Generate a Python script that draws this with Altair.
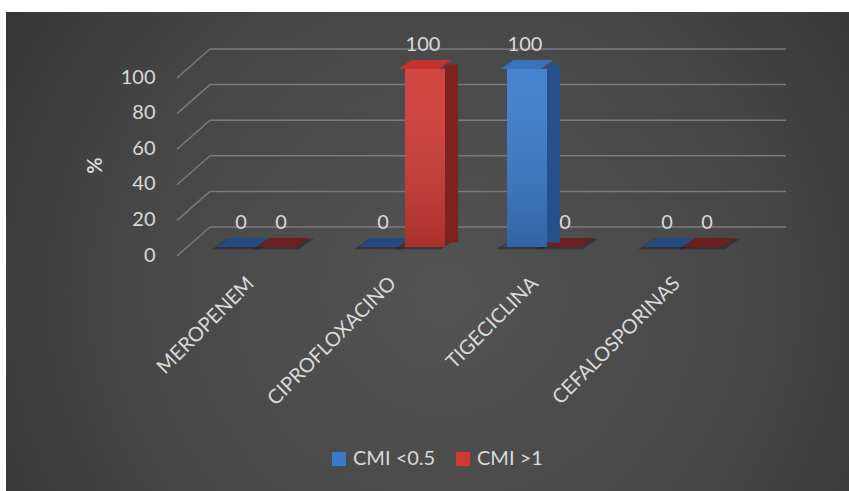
import altair as alt
import pandas as pd

# Data
categories = ["MEROPENEM", "CIPROFLOXACINO", "TIGECICLINA", "CEFALOSPORINAS"]
series = ["CMI <0.5", "CMI >1"]
cmi_low = [0, 0, 100, 0]
cmi_high = [0, 100, 0, 0]
y_ticks = [0, 20, 40, 60, 80, 100]

rows = []
for cat, lo, hi in zip(categories, cmi_low, cmi_high):
    rows.append({"categoria": cat, "serie": series[0], "valor": lo})
    rows.append({"categoria": cat, "serie": series[1], "valor": hi})
df = pd.DataFrame(rows)
grid_df = pd.DataFrame({"valor": y_ticks})
bg_df = pd.DataFrame({"k": [0]})

FONT = "Lato"
TXT = "#d9d9d9"
PLOT_W, PLOT_H = 568, 207
LEFT, TOP = 192, 40
BAR_W = 40      # width of one bar inside a category group
DEPTH_X, DEPTH_Y = 13, 9

# parallelogram used for floor tiles and bar tops (depth 13 px right, 9 px up)
PARA = "M -1 0.1698 L 0.5094 0.1698 L 1 -0.1698 L -0.5094 -0.1698 Z"
PARA_SIZE = 2809

x_enc = alt.X(
    "categoria:N",
    sort=categories,
    scale=alt.Scale(domain=categories, paddingInner=0.437, paddingOuter=0.2185),
    axis=alt.Axis(
        title=None, labelAngle=-45, labelAlign="right", labelBaseline="middle",
        labelPadding=33, labelOffset=-12, labelFont=FONT, labelFontSize=20,
        labelColor=TXT, domain=False, ticks=False, labelLimit=400,
        labelOverlap=False, labelBound=False, zindex=1,
    ),
)
xo_enc = alt.XOffset(
    "serie:N",
    scale=alt.Scale(type="band", domain=series, range=[0, 2 * BAR_W],
                    paddingInner=0, paddingOuter=0),
)
# side faces sit one bar-width further right, pushed back by half the depth
xo_side = alt.XOffset(
    "serie:N",
    scale=alt.Scale(type="band", domain=series,
                    range=[BAR_W / 2 + DEPTH_X / 2, 2.5 * BAR_W + DEPTH_X / 2],
                    paddingInner=0, paddingOuter=0),
)
y_enc = alt.Y(
    "valor:Q",
    scale=alt.Scale(domain=[0, 116.3], nice=False, zero=True),
    axis=alt.Axis(
        title="%", values=y_ticks, grid=False, domain=False, ticks=False,
        labelPadding=37, labelOffset=8, labelFont=FONT, labelFontSize=20,
        labelColor=TXT, titleFont=FONT, titleFontSize=20, titleFontWeight="bold",
        titleColor=TXT, titleAngle=-90, titleX=-97, titleY=125,
        titleAlign="center", titleBaseline="middle", zindex=1,
    ),
)

is_low = alt.datum.serie == series[0]

# Chart background with a soft radial gradient
background = alt.Chart(bg_df).mark_rect(
    color=alt.RadialGradient(
        gradient="radial",
        stops=[
            alt.GradientStop(color="#535353", offset=0),
            alt.GradientStop(color="#464646", offset=0.5),
            alt.GradientStop(color="#2a2a2a", offset=1),
        ],
        x1=0.52, y1=0.55, r1=0, x2=0.52, y2=0.55, r2=0.78,
    )
).encode(
    x=alt.value(6 - LEFT), x2=alt.value(849 - LEFT),
    y=alt.value(12 - TOP), y2=alt.value(491 - TOP),
)

# Back-wall gridlines and their slanted side-wall segments
grid_back = alt.Chart(grid_df).mark_rule(
    color="#7a7a7a", strokeWidth=1.5, yOffset=-20, y2Offset=-20
).encode(y=y_enc, y2="valor:Q", x=alt.value(18), x2=alt.value(594))

grid_side = alt.Chart(grid_df).mark_rule(
    color="#7a7a7a", strokeWidth=1.5, yOffset=9, y2Offset=-20
).encode(y=y_enc, y2="valor:Q", x=alt.value(-15), x2=alt.value(18))

base = alt.Chart(df).encode(x=x_enc, xOffset=xo_enc)

shadow = base.mark_point(
    shape=PARA, size=PARA_SIZE * 1.35, filled=True, opacity=0.5, color="#1e1e1e",
    strokeWidth=0, xOffset=5, yOffset=-3,
).encode(y=alt.datum(0))

floor = base.mark_point(
    shape=PARA, size=PARA_SIZE, filled=True, opacity=1, strokeWidth=0,
    xOffset=6.5, yOffset=-4.5,
).encode(
    y=alt.datum(0),
    color=alt.condition(is_low, alt.value("#254a80"), alt.value("#6b1f1e")),
)

side = alt.Chart(df).mark_bar(
    width=DEPTH_X, yOffset=-DEPTH_Y / 2, y2Offset=-DEPTH_Y / 2
).encode(
    x=x_enc,
    xOffset=xo_side,
    y=y_enc,
    color=alt.condition(is_low, alt.value("#24508c"), alt.value("#7e221f")),
).transform_filter(alt.datum.valor > 0)

front = base.mark_bar().encode(
    y=y_enc,
    color=alt.Color(
        "serie:N",
        scale=alt.Scale(domain=series, range=["#3a7aca", "#cf3a35"]),
        legend=alt.Legend(
            title=None, orient="none", legendX=137, legendY=409, padding=0,
            direction="horizontal", symbolType="square", symbolSize=196,
            symbolStrokeWidth=0, labelFont=FONT, labelFontSize=20,
            labelColor=TXT, labelOffset=4, columnPadding=17,
        ),
    ),
)

shade = base.mark_bar(
    color=alt.LinearGradient(
        gradient="linear",
        stops=[
            alt.GradientStop(color="rgba(255,255,255,0.06)", offset=0),
            alt.GradientStop(color="rgba(0,0,0,0.18)", offset=1),
        ],
        x1=0, x2=0, y1=0, y2=1,
    )
).encode(y=y_enc)

top = base.mark_point(
    shape=PARA, size=PARA_SIZE, filled=True, opacity=1, strokeWidth=0,
    xOffset=6.5, yOffset=-4.5,
).encode(
    y=y_enc,
    color=alt.condition(is_low, alt.value("#3a72bd"), alt.value("#c4332f")),
).transform_filter(alt.datum.valor > 0)

labels = base.mark_text(
    font=FONT, fontSize=20, color=TXT, dy=-18, dx=-2, baseline="alphabetic"
).encode(y=y_enc, text="valor:Q")

chart = alt.layer(
    background, grid_back, grid_side, shadow, floor, side, front, shade, top, labels
).resolve_scale(
    xOffset="independent"
).properties(
    width=PLOT_W, height=PLOT_H,
    autosize=alt.AutoSizeParams(type="none"),
    padding={"left": LEFT, "top": TOP, "right": 849 - LEFT - PLOT_W, "bottom": 491 - TOP - PLOT_H},
    background="white",
).configure_view(stroke=None)

chart.save("out.html", embed_options={"renderer": "svg", "actions": False})
